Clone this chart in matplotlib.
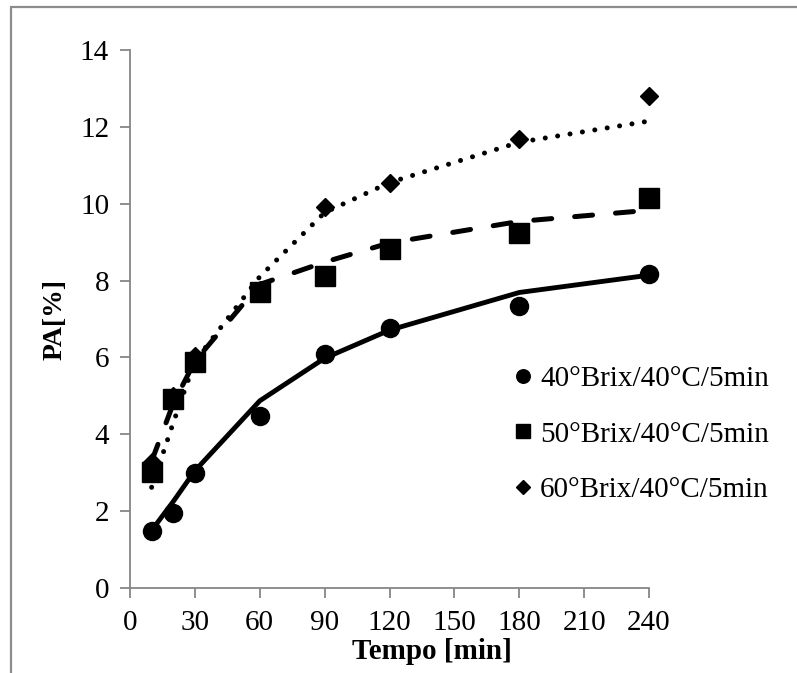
import matplotlib
matplotlib.use('Agg')
import matplotlib.pyplot as plt
from matplotlib.patches import Rectangle

plt.rcParams['font.family'] = ['Liberation Serif', 'DejaVu Serif']

# time points [min]
tempo = [10, 20, 30, 60, 90, 120, 180, 240]

# measured PA [%]
pa_40 = [1.49, 1.94, 2.98, 4.48, 6.09, 6.77, 7.35, 8.17]
pa_50 = [3.01, 4.92, 5.87, 7.69, 8.12, 8.82, 9.25, 10.16]
pa_60 = [3.28, 5.00, 6.05, 7.75, 9.92, 10.53, 11.68, 12.80]

# model fit
fit_40 = [1.50, 2.25, 3.05, 4.87, 5.98, 6.71, 7.69, 8.14]
fit_50 = [3.30, 4.80, 5.90, 7.90, 8.48, 8.98, 9.54, 9.83]
fit_60 = [2.62, 4.30, 5.90, 8.10, 9.77, 10.55, 11.60, 12.15]

labels = ['40°Brix/40°C/5min', '50°Brix/40°C/5min', '60°Brix/40°C/5min']

fig = plt.figure(figsize=(7.97, 6.73), dpi=100)
ax = fig.add_axes([130/797, 1 - 588/673, (649 - 130)/797, (588 - 50)/673])

ax.plot(tempo, fit_40, color='black', lw=3.5, solid_capstyle='round')
ax.plot(tempo, fit_50, color='black', lw=3.6, linestyle=(0, (3.6, 4.6)),
        dash_capstyle='round')
ax.plot(tempo, fit_60, color='black', lw=3.6, linestyle=(0, (0.01, 2.5)),
        dash_capstyle='round')

ax.plot(tempo, pa_40, 'o', color='black', ms=13, clip_on=False, label=labels[0])
ax.plot(tempo, pa_50, 's', color='black', ms=14, clip_on=False, label=labels[1])
ax.plot(tempo, pa_60, 'D', color='black', ms=9, clip_on=False, label=labels[2])

ax.set_xlim(0, 240)
ax.set_ylim(0, 14)
ax.set_xticks(range(0, 241, 30))
ax.set_yticks(range(0, 15, 2))

axis_grey = '#868686'
for side in ['top', 'right']:
    ax.spines[side].set_visible(False)
for side in ['left', 'bottom']:
    ax.spines[side].set_color(axis_grey)
    ax.spines[side].set_linewidth(1.3)
ax.tick_params(colors=axis_grey, labelcolor='black', labelsize=21, length=7, width=1.3)
ax.tick_params(axis='x', pad=9)
ax.tick_params(axis='y', pad=8)

ax.set_xlabel('Tempo [min]', fontsize=21, fontweight='bold')
ax.xaxis.set_label_coords((432 - 130)/519, -0.093)
ax.set_ylabel('PA[%]', fontsize=20, fontweight='bold', labelpad=9)

leg = ax.legend(loc='upper left', bbox_to_anchor=(0.72, 0.435), frameon=False,
                fontsize=21, handlelength=0.55, handletextpad=0.3,
                labelspacing=1.0, markerscale=0.75, borderaxespad=0)

fig.add_artist(Rectangle((11/797, -0.1), 1.0, 1 - 7/673 + 0.1,
                         transform=fig.transFigure, fill=False,
                         ec='#8c8c8c', lw=1.6))

fig.savefig('out.png', dpi=100)
